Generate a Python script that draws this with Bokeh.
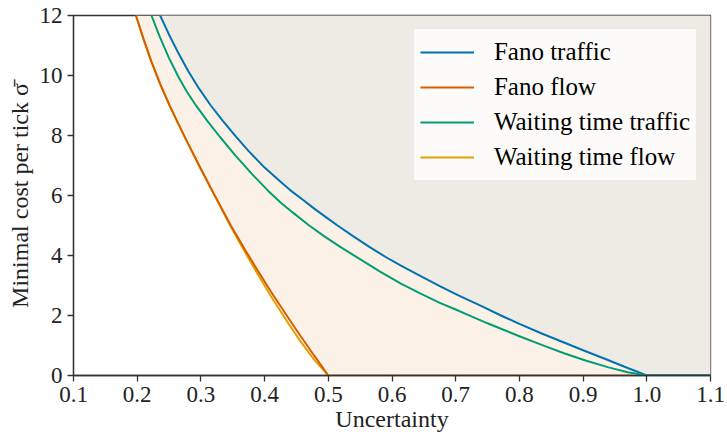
from bokeh.plotting import figure
from bokeh.models import Legend, LegendItem, Range1d, FixedTicker
from bokeh.embed import file_html
from bokeh.resources import INLINE

# Minimal cost per tick as a function of uncertainty, for each bound
fano_traffic_x = [0.236, 0.25, 0.265, 0.28, 0.295, 0.3155, 0.335, 0.355, 0.375, 0.40,
                  0.4255, 0.44, 0.46, 0.48, 0.50, 0.5145, 0.54, 0.565, 0.59, 0.614,
                  0.645, 0.675, 0.705, 0.739, 0.771, 0.80, 0.835, 0.87, 0.90, 0.935,
                  0.965, 1.0, 1.1]
fano_traffic_y = [12.0, 11.36, 10.73, 10.15, 9.63, 9.0, 8.47, 7.96, 7.48, 6.93,
                  6.45, 6.18, 5.86, 5.53, 5.22, 5.0, 4.63, 4.28, 3.95, 3.66,
                  3.31, 2.98, 2.66, 2.33, 2.0, 1.72, 1.40, 1.10, 0.84, 0.55,
                  0.29, 0.0, 0.0]

fano_flow_x = [0.198, 0.21, 0.222, 0.236, 0.2513, 0.265, 0.28, 0.2998, 0.32, 0.347,
               0.37, 0.39, 0.41, 0.436, 0.455, 0.478, 0.5, 1.1]
fano_flow_y = [12.0, 11.21, 10.48, 9.72, 8.98, 8.37, 7.72, 6.89, 6.07, 5.0,
               4.17, 3.47, 2.79, 1.96, 1.36, 0.66, 0.0, 0.0]

wait_traffic_x = [0.2224, 0.235, 0.25, 0.265, 0.278, 0.292, 0.31, 0.33, 0.355, 0.38,
                  0.405, 0.4255, 0.445, 0.47, 0.495, 0.52, 0.551, 0.58, 0.614, 0.645,
                  0.675, 0.70, 0.7237, 0.75, 0.771, 0.80, 0.835, 0.87, 0.905, 0.94,
                  0.97, 1.0, 1.1]
wait_traffic_y = [12.0, 11.31, 10.58, 9.94, 9.46, 9.01, 8.49, 7.95, 7.31, 6.72,
                  6.17, 5.76, 5.42, 5.0, 4.62, 4.27, 3.86, 3.48, 3.06, 2.73,
                  2.42, 2.20, 1.98, 1.74, 1.56, 1.31, 1.02, 0.74, 0.49, 0.27,
                  0.11, 0.0, 0.0]

wait_flow_x = [0.198, 0.21, 0.222, 0.236, 0.2513, 0.265, 0.28, 0.2998, 0.32, 0.347,
               0.37, 0.39, 0.41, 0.436, 0.455, 0.478, 0.5]
wait_flow_y = [12.0, 11.21, 10.48, 9.72, 8.98, 8.37, 7.72, 6.89, 6.06, 4.96,
               4.08, 3.35, 2.64, 1.78, 1.18, 0.52, 0.0]

x_ticks = [0.1, 0.2, 0.3, 0.4, 0.5, 0.6, 0.7, 0.8, 0.9, 1.0, 1.1]
x_tick_labels = ["0.1", "0.2", "0.3", "0.4", "0.5", "0.6", "0.7", "0.8", "0.9", "1.0", "1.1"]
y_ticks = [0, 2, 4, 6, 8, 10, 12]

SERIF = "Liberation Serif"
INK = "#333333"

p = figure(width=727, height=437, output_backend="svg", toolbar_location=None,
           x_range=Range1d(0.1, 1.1), y_range=Range1d(0, 12),
           min_border_left=73, min_border_right=17, min_border_top=15,
           min_border_bottom=62)
p.grid.visible = False
p.background_fill_color = "white"
p.border_fill_color = "white"
p.outline_line_color = INK
p.outline_line_width = 1.3

# feasible regions above each lower bound
p.varea(x=fano_flow_x, y1=fano_flow_y, y2=12, fill_color="#FCF1E7")
p.varea(x=fano_traffic_x, y1=fano_traffic_y, y2=12, fill_color="#EEEAE4")

r_wflow = p.line(wait_flow_x, wait_flow_y, line_color="#E69F00", line_width=2)
r_fflow = p.line(fano_flow_x, fano_flow_y, line_color="#D55E00", line_width=2)
r_ftraf = p.line(fano_traffic_x, fano_traffic_y, line_color="#0072B2", line_width=2)
r_wtraf = p.line(wait_traffic_x, wait_traffic_y, line_color="#009E73", line_width=2)

legend = Legend(items=[
    LegendItem(label="Fano traffic", renderers=[r_ftraf]),
    LegendItem(label="Fano flow", renderers=[r_fflow]),
    LegendItem(label="Waiting time traffic", renderers=[r_wtraf]),
    LegendItem(label="Waiting time flow", renderers=[r_wflow]),
], location="top_right")
legend.margin = 13
legend.padding = 6
legend.spacing = 1
legend.glyph_width = 54
legend.glyph_height = 34
legend.label_height = 34
legend.label_standoff = 20
legend.label_text_font = SERIF
legend.label_text_font_size = "25px"
legend.label_text_color = "black"
legend.background_fill_color = "white"
legend.background_fill_alpha = 0.8
legend.border_line_color = "#D6D6D6"
legend.border_line_width = 1
p.add_layout(legend)

p.xaxis.ticker = FixedTicker(ticks=x_ticks)
p.xaxis.major_label_overrides = {t: s for t, s in zip(x_ticks, x_tick_labels)}
p.yaxis.ticker = FixedTicker(ticks=y_ticks)

p.xaxis.axis_label = "Uncertainty"
p.yaxis.axis_label = "Minimal cost per tick σ̄"

for ax in (p.xaxis[0], p.yaxis[0]):
    ax.axis_line_color = INK
    ax.axis_line_width = 1.3
    ax.major_tick_line_color = INK
    ax.major_tick_line_width = 1.3
    ax.major_tick_out = 6
    ax.major_tick_in = 0
    ax.minor_tick_line_color = None
    ax.major_label_text_font = SERIF
    ax.major_label_text_font_size = "23px"
    ax.major_label_text_color = "#222222"
    ax.axis_label_text_font = SERIF
    ax.axis_label_text_font_size = "24px"
    ax.axis_label_text_font_style = "normal"
    ax.axis_label_text_color = "#222222"

p.xaxis.major_label_standoff = 5
p.xaxis.axis_label_standoff = 1
p.yaxis.major_label_standoff = 5
p.yaxis.axis_label_standoff = 4

open("out.html", "w").write(file_html(p, INLINE))
